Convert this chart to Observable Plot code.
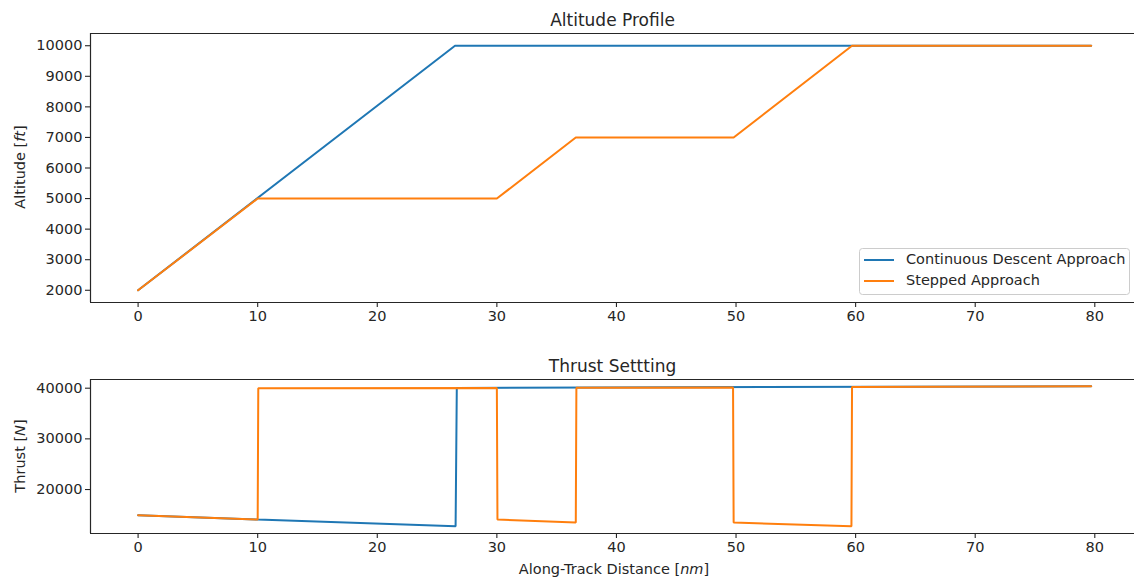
<!DOCTYPE html>
<html>
<head>
<meta charset="utf-8">
<script src="https://cdn.jsdelivr.net/npm/d3@7"></script>
<script src="https://cdn.jsdelivr.net/npm/@observablehq/plot@0.6"></script>
<style>
  html, body { margin: 0; padding: 0; background: #fff; }
  #chart { width: 1134px; height: 581px; overflow: hidden; }
  #chart svg { display: block; }
</style>
</head>
<body>
<div id="chart"></div>
<script>
// Series names and colours
const seriesNames = ["Continuous Descent Approach", "Stepped Approach"];
const seriesColors = ["#1f77b4", "#ff7f0e"];

// Altitude profile [ft] against along-track distance [nm]
const cdaAltDistance = [0, 26.5, 79.7];
const cdaAltitude = [2000, 10000, 10000];
const stepAltDistance = [0, 10, 30, 36.6, 49.8, 59.7, 79.7];
const stepAltitude = [2000, 5000, 5000, 7000, 7000, 10000, 10000];

// Thrust setting [N] against along-track distance [nm]
const cdaThrDistance = [0, 10, 26.55, 26.65, 79.7];
const cdaThrust = [14930, 14080, 12760, 40060, 40390];
const stepThrDistance = [0, 10, 10.05, 30, 30.05, 36.6, 36.65, 49.75, 49.8, 59.65, 59.7, 79.7];
const stepThrust = [14930, 14080, 40000, 40060, 14080, 13490, 40100, 40160, 13490, 12730, 40220, 40390];

// Axis ticks and scale domains
const xTicks = [0, 10, 20, 30, 40, 50, 60, 70, 80];
const altTicks = [2000, 3000, 4000, 5000, 6000, 7000, 8000, 9000, 10000];
const thrTicks = [20000, 30000, 40000];
const xDomain = [-3.98, 83.32];
const altDomain = [1600, 10400];
const thrDomain = [11320, 41716];

const rows = (xs, ys, series) => xs.map((x, i) => ({x, y: ys[i], series}));
const altitudeData = [
  ...rows(cdaAltDistance, cdaAltitude, seriesNames[0]),
  ...rows(stepAltDistance, stepAltitude, seriesNames[1])
];
const thrustData = [
  ...rows(cdaThrDistance, cdaThrust, seriesNames[0]),
  ...rows(stepThrDistance, stepThrust, seriesNames[1])
];

const ink = "#262626";
const font = "DejaVu Sans";
const fs = 14.5;

function panel({data, yDomain, yTicks, title, height, marginTop, marginBottom}) {
  return Plot.plot({
    width: 1134,
    height,
    marginLeft: 90,
    marginRight: 0,
    marginTop,
    marginBottom,
    style: {fontFamily: font, fontSize: fs + "px", color: ink, background: "#fff", overflow: "visible"},
    x: {domain: xDomain},
    y: {domain: yDomain},
    color: {domain: seriesNames, range: seriesColors},
    marks: [
      Plot.line(data, {x: "x", y: "y", z: "series", stroke: "series", strokeWidth: 2, strokeLinejoin: "miter"}),
      Plot.ruleX([xDomain[0]], {stroke: ink, strokeWidth: 1.2}),
      Plot.ruleY(yDomain, {stroke: ink, strokeWidth: 1.2}),
      Plot.axisX({ticks: xTicks, tickSize: 5, tickPadding: 3, tickFormat: "d", label: null, stroke: ink, strokeWidth: 1.1, fill: ink}),
      Plot.axisY({ticks: yTicks, tickSize: 5, tickPadding: 3, tickFormat: "d", label: null, stroke: ink, strokeWidth: 1.1, fill: ink}),
      Plot.text([title], {frameAnchor: "top", lineAnchor: "bottom", dy: -8, fontSize: 17, fill: ink})
    ]
  });
}

const altitudePanel = panel({data: altitudeData, yDomain: altDomain, yTicks: altTicks, title: "Altitude Profile", height: 340, marginTop: 33, marginBottom: 38});
const thrustPanel = panel({data: thrustData, yDomain: thrDomain, yTicks: thrTicks, title: "Thrust Settting", height: 241, marginTop: 39, marginBottom: 48});

const chart = document.getElementById("chart");
chart.append(altitudePanel, thrustPanel);

// Axis labels with italic units
function label(svg, parts, attrs) {
  const t = d3.select(svg).append("text")
    .attr("font-family", font).attr("font-size", fs).attr("fill", ink)
    .attr("text-anchor", "middle").attr("dominant-baseline", "middle");
  for (const [k, v] of Object.entries(attrs)) t.attr(k, v);
  for (const [str, italic] of parts) {
    t.append("tspan").attr("font-style", italic ? "italic" : "normal").text(str);
  }
}
label(altitudePanel, [["Altitude [", false], ["ft", true], ["]", false]], {transform: "translate(21,167) rotate(-90)"});
label(thrustPanel, [["Thrust [", false], ["N", true], ["]", false]], {transform: "translate(21,116) rotate(-90)"});
label(thrustPanel, [["Along-Track Distance [", false], ["nm", true], ["]", false]], {x: 614, y: 230});

// Legend, lower right of the altitude panel
const lg = d3.select(altitudePanel).append("g")
  .attr("font-family", font).attr("font-size", fs).attr("text-anchor", "start");
lg.append("rect").attr("x", 859.5).attr("y", 248.5).attr("width", 270).attr("height", 46)
  .attr("rx", 3).attr("fill", "#fff").attr("fill-opacity", 0.8).attr("stroke", "#cccccc");
seriesNames.forEach((name, i) => {
  const y = 260 + i * 21;
  lg.append("line").attr("x1", 864).attr("x2", 894).attr("y1", y).attr("y2", y)
    .attr("stroke", seriesColors[i]).attr("stroke-width", 2);
  lg.append("text").attr("x", 906).attr("y", y).attr("dominant-baseline", "middle")
    .attr("text-anchor", "start").attr("fill", ink).text(name);
});
</script>
</body>
</html>
